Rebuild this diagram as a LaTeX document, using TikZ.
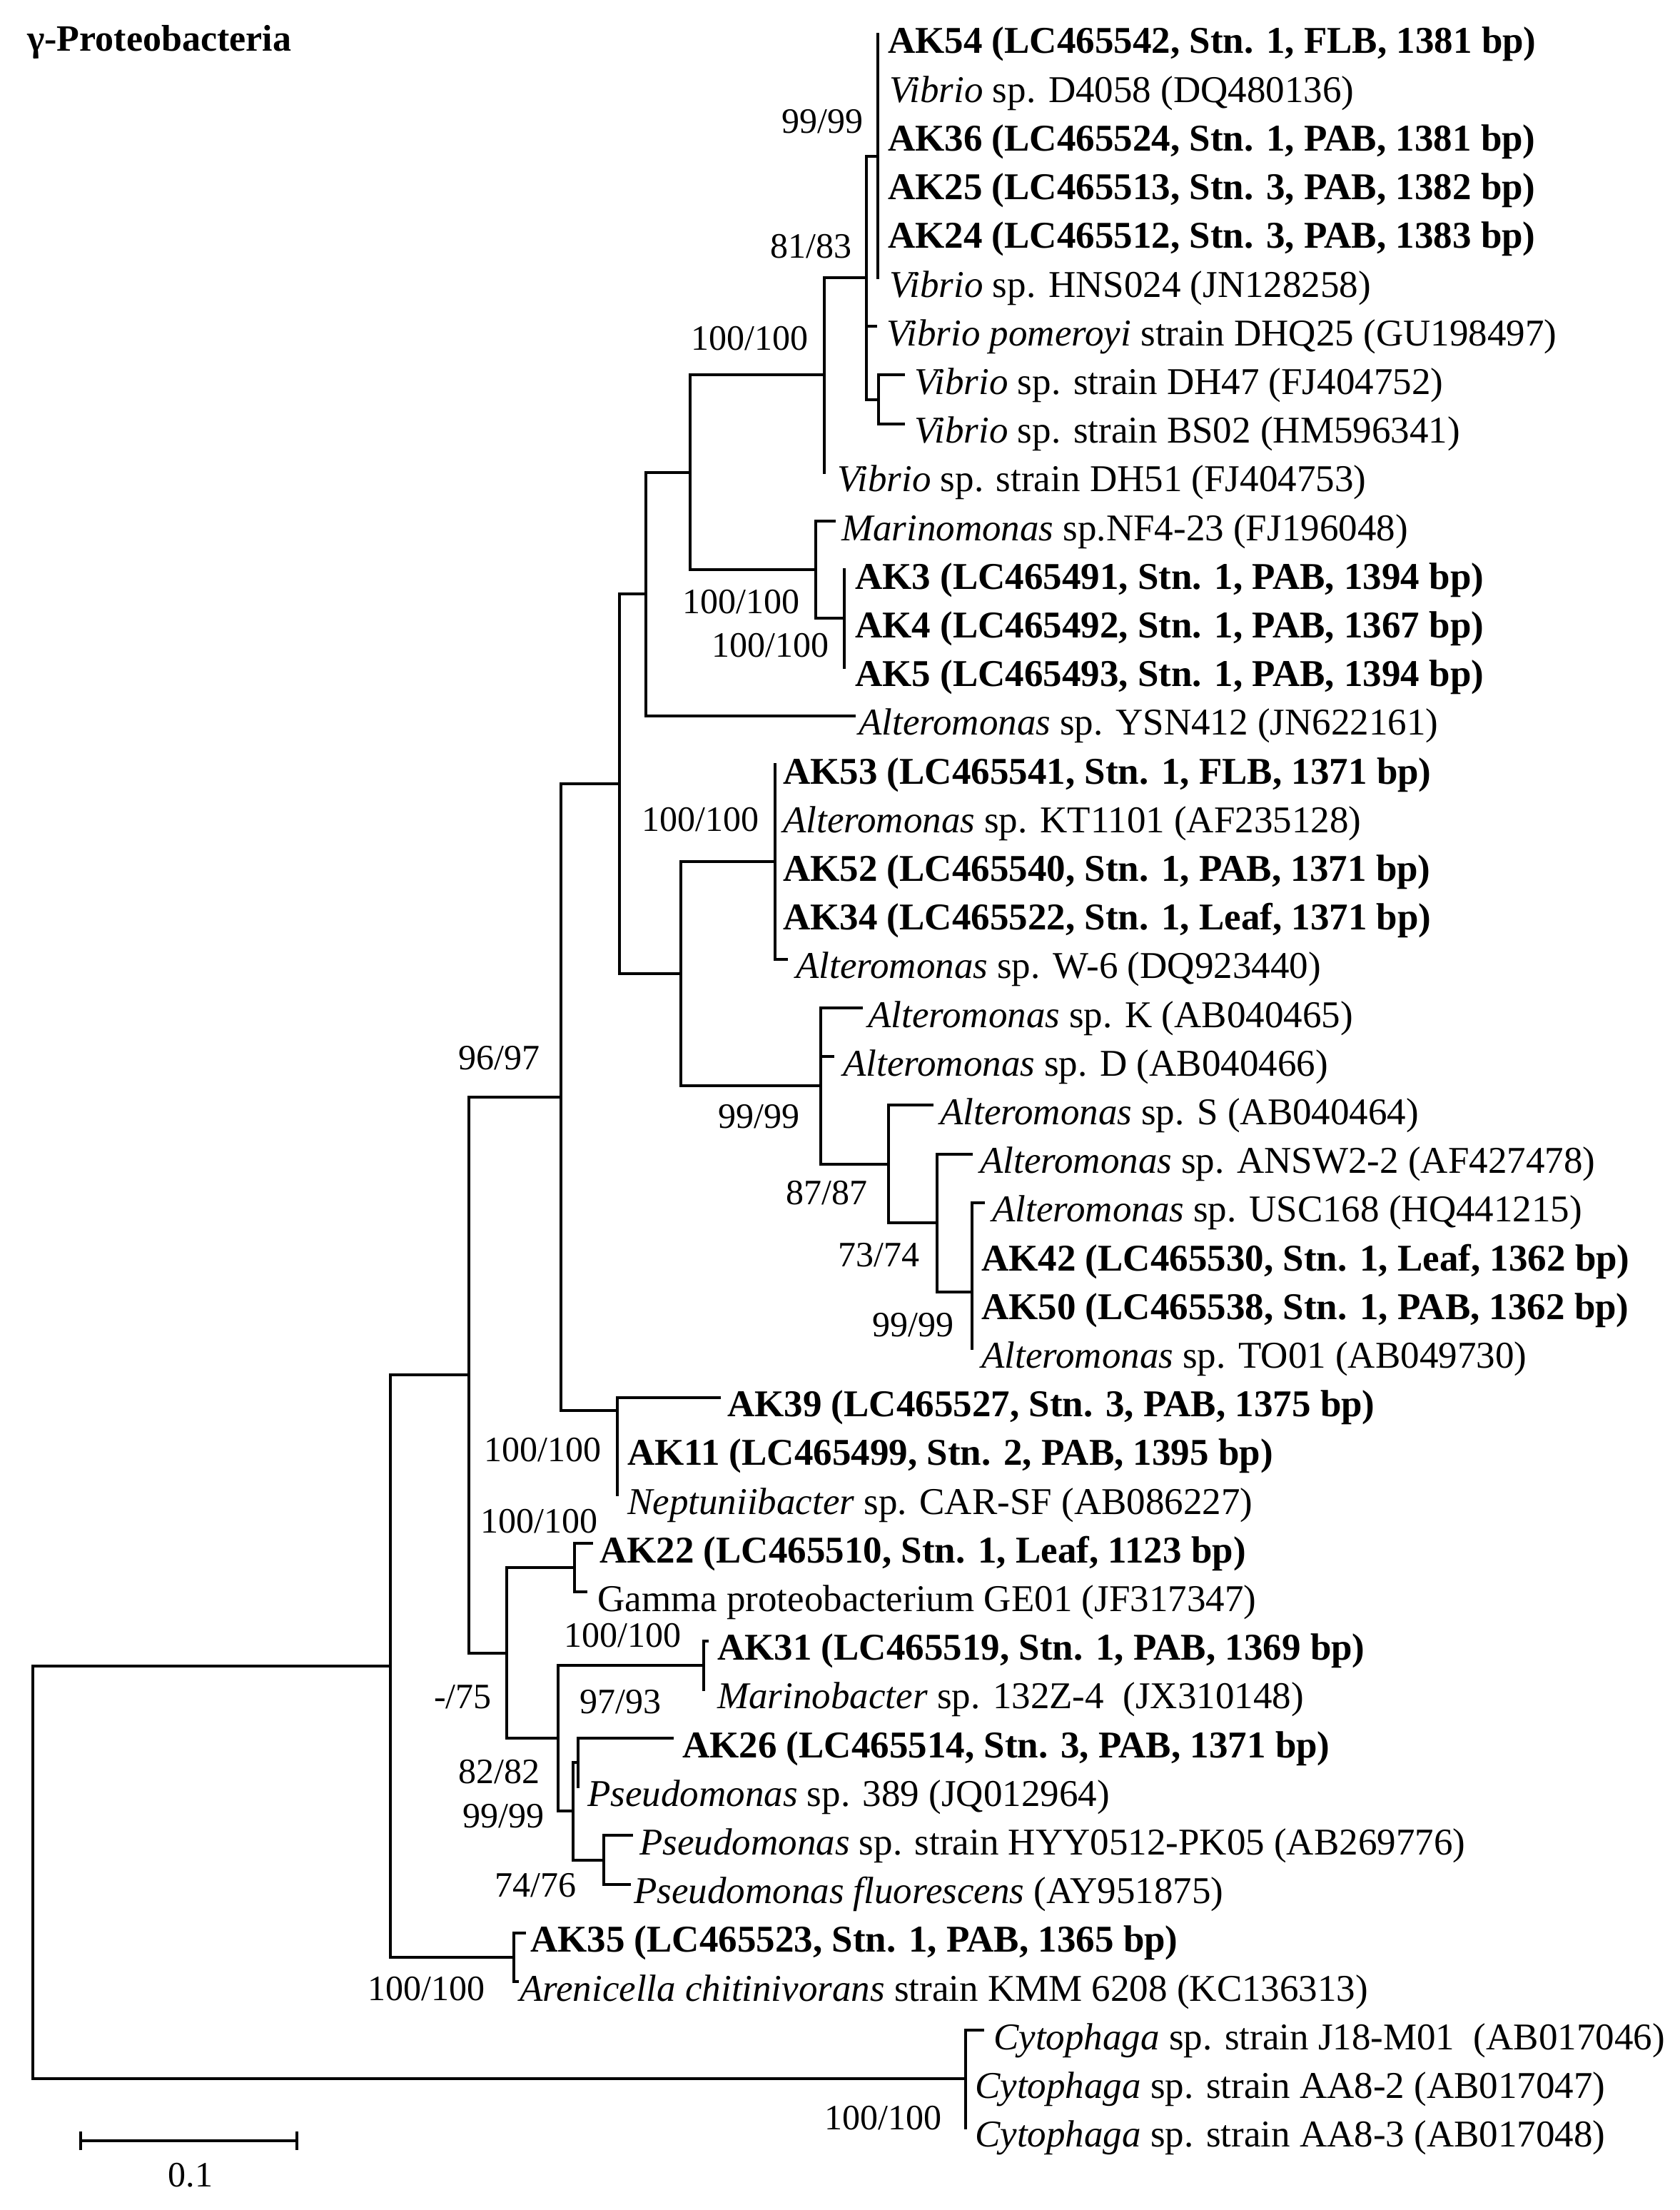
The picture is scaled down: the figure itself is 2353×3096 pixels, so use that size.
\documentclass[tikz,border=0pt]{standalone}
\usepackage{fontspec}
\setmainfont{Liberation Serif}
\newcommand\treebr[3]{\draw[br] (#2) -| (#1) |- (#3);}
\newcommand\midbr[2]{\draw[br] (#1 |- #2) -- (#2);}
\begin{document}
\begin{tikzpicture}[x=1pt,y=-1pt,
  br/.style={line width=4pt,line cap=rect,line join=miter},
  leaf/.style={anchor=base west,inner sep=0pt,font=\fontsize{53}{60}\selectfont},
  boot/.style={anchor=base west,inner sep=0pt,font=\fontsize{50}{58}\selectfont}]
\fill[white] (0,0) rectangle (2353,3096);
\useasboundingbox (0,0) rectangle (2353,3096);
% ---- leaf tips
\coordinate (l1) at (1230,48);
\coordinate (l2) at (1230,116.2);
\coordinate (l3) at (1230,184.4);
\coordinate (l4) at (1230,252.6);
\coordinate (l5) at (1230,320.8);
\coordinate (l6) at (1230,389);
\coordinate (l7) at (1227,457.2);
\coordinate (l8) at (1266,525.4);
\coordinate (l9) at (1266,593.6);
\coordinate (l10) at (1155,661.8);
\coordinate (l11) at (1169,730);
\coordinate (l12) at (1183,798.2);
\coordinate (l13) at (1183,866.4);
\coordinate (l14) at (1183,934.6);
\coordinate (l15) at (1197,1002.8);
\coordinate (l16) at (1086,1071);
\coordinate (l17) at (1086,1139.2);
\coordinate (l18) at (1086,1207.4);
\coordinate (l19) at (1086,1275.6);
\coordinate (l20) at (1102,1343.8);
\coordinate (l21) at (1207,1412);
\coordinate (l22) at (1167,1480.2);
\coordinate (l23) at (1306,1548.4);
\coordinate (l24) at (1361,1616.6);
\coordinate (l25) at (1378,1684.8);
\coordinate (l26) at (1362,1753);
\coordinate (l27) at (1362,1821.2);
\coordinate (l28) at (1362,1889.4);
\coordinate (l29) at (1008,1957.6);
\coordinate (l30) at (865,2025.8);
\coordinate (l31) at (865,2094);
\coordinate (l32) at (829,2162.2);
\coordinate (l33) at (821,2230.4);
\coordinate (l34) at (991,2298.6);
\coordinate (l35) at (986,2366.8);
\coordinate (l36) at (942,2435);
\coordinate (l37) at (810,2503.2);
\coordinate (l38) at (885,2571.4);
\coordinate (l39) at (882,2639.6);
\coordinate (l40) at (735,2707.8);
\coordinate (l41) at (725,2776);
\coordinate (l42) at (1377,2844.2);
\coordinate (l43) at (1353,2912.4);
\coordinate (l44) at (1353,2980.6);
% ---- internal nodes
\coordinate (V) at (1230,218.5);
\coordinate (DHP) at (1231,559.5);
\coordinate (NA) at (1214,389);
\coordinate (NV) at (1155,525.4);
\coordinate (A345) at (1183,866.4);
\coordinate (MC) at (1143,798.2);
\coordinate (O) at (967,661.8);
\coordinate (M) at (905,832.3);
\coordinate (A53) at (1086,1207.4);
\coordinate (X) at (1362,1810);
\coordinate (R) at (1313,1713.3);
\coordinate (Q) at (1245,1630.9);
\coordinate (P) at (1150,1521.4);
\coordinate (N) at (954,1364.4);
\coordinate (K) at (868,1098.4);
\coordinate (L) at (865,1976);
\coordinate (I) at (786,1537.2);
\coordinate (C22) at (805,2196.3);
\coordinate (C31) at (986,2332.7);
\coordinate (W) at (810,2469.1);
\coordinate (PS) at (846,2605.5);
\coordinate (U) at (803,2537.3);
\coordinate (T) at (782,2435);
\coordinate (J) at (710,2315.7);
\coordinate (H) at (657,1926.4);
\coordinate (C35) at (720,2741.9);
\coordinate (G) at (547,2334.2);
\coordinate (CY) at (1353,2912.4);
\coordinate (root) at (46,2623.3);
% ---- branches
\treebr{V}{l1}{l6}
\treebr{DHP}{l8}{l9}
\treebr{NA}{V}{DHP}
\midbr{NA}{l7}
\treebr{NV}{NA}{l10}
\treebr{A345}{l12}{l14}
\treebr{MC}{l11}{A345}
\treebr{O}{NV}{MC}
\treebr{M}{O}{l15}
\treebr{A53}{l16}{l20}
\treebr{X}{l25}{l28}
\treebr{R}{l24}{X}
\treebr{Q}{l23}{R}
\treebr{P}{l21}{Q}
\midbr{P}{l22}
\treebr{N}{A53}{P}
\treebr{K}{M}{N}
\treebr{L}{l29}{l31}
\treebr{I}{K}{L}
\treebr{C22}{l32}{l33}
\treebr{C31}{l34}{l35}
\treebr{W}{l36}{l37}
\treebr{PS}{l38}{l39}
\treebr{U}{W}{PS}
\treebr{T}{C31}{U}
\treebr{J}{C22}{T}
\treebr{H}{I}{J}
\treebr{C35}{l40}{l41}
\treebr{G}{H}{C35}
\treebr{CY}{l42}{l44}
\treebr{root}{G}{CY}
% ---- leaf labels
\node[leaf] (t1) at (1244,75) {\textbf{AK54 (LC465542, Stn. 1, FLB, 1381 bp)}};
\node[leaf] (t2) at (1246,143.2) {\textit{Vibrio} sp. D4058 (DQ480136)};
\node[leaf] (t3) at (1244,211.4) {\textbf{AK36 (LC465524, Stn. 1, PAB, 1381 bp)}};
\node[leaf] (t4) at (1244,279.6) {\textbf{AK25 (LC465513, Stn. 3, PAB, 1382 bp)}};
\node[leaf] (t5) at (1244,347.8) {\textbf{AK24 (LC465512, Stn. 3, PAB, 1383 bp)}};
\node[leaf] (t6) at (1246,416) {\textit{Vibrio} sp. HNS024 (JN128258)};
\node[leaf] (t7) at (1242,484.2) {\textit{Vibrio pomeroyi} strain DHQ25 (GU198497)};
\node[leaf] (t8) at (1281,552.4) {\textit{Vibrio} sp. strain DH47 (FJ404752)};
\node[leaf] (t9) at (1281,620.6) {\textit{Vibrio} sp. strain BS02 (HM596341)};
\node[leaf] (t10) at (1173,688.8) {\textit{Vibrio} sp. strain DH51 (FJ404753)};
\node[leaf] (t11) at (1179,757) {\textit{Marinomonas} sp.NF4-23 (FJ196048)};
\node[leaf] (t12) at (1198,825.2) {\textbf{AK3 (LC465491, Stn. 1, PAB, 1394 bp)}};
\node[leaf] (t13) at (1198,893.4) {\textbf{AK4 (LC465492, Stn. 1, PAB, 1367 bp)}};
\node[leaf] (t14) at (1198,961.6) {\textbf{AK5 (LC465493, Stn. 1, PAB, 1394 bp)}};
\node[leaf] (t15) at (1203,1029.8) {\textit{Alteromonas} sp. YSN412 (JN622161)};
\node[leaf] (t16) at (1097,1098) {\textbf{AK53 (LC465541, Stn. 1, FLB, 1371 bp)}};
\node[leaf] (t17) at (1097,1166.2) {\textit{Alteromonas} sp. KT1101 (AF235128)};
\node[leaf] (t18) at (1097,1234.4) {\textbf{AK52 (LC465540, Stn. 1, PAB, 1371 bp)}};
\node[leaf] (t19) at (1097,1302.6) {\textbf{AK34 (LC465522, Stn. 1, Leaf, 1371 bp)}};
\node[leaf] (t20) at (1115,1370.8) {\textit{Alteromonas} sp. W-6 (DQ923440)};
\node[leaf] (t21) at (1216,1439) {\textit{Alteromonas} sp. K (AB040465)};
\node[leaf] (t22) at (1181,1507.2) {\textit{Alteromonas} sp. D (AB040466)};
\node[leaf] (t23) at (1317,1575.4) {\textit{Alteromonas} sp. S (AB040464)};
\node[leaf] (t24) at (1373,1643.6) {\textit{Alteromonas} sp. ANSW2-2 (AF427478)};
\node[leaf] (t25) at (1390,1711.8) {\textit{Alteromonas} sp. USC168 (HQ441215)};
\node[leaf] (t26) at (1375,1780) {\textbf{AK42 (LC465530, Stn. 1, Leaf, 1362 bp)}};
\node[leaf] (t27) at (1375,1848.2) {\textbf{AK50 (LC465538, Stn. 1, PAB, 1362 bp)}};
\node[leaf] (t28) at (1375,1916.4) {\textit{Alteromonas} sp. TO01 (AB049730)};
\node[leaf] (t29) at (1019,1984.6) {\textbf{AK39 (LC465527, Stn. 3, PAB, 1375 bp)}};
\node[leaf] (t30) at (879,2052.8) {\textbf{AK11 (LC465499, Stn. 2, PAB, 1395 bp)}};
\node[leaf] (t31) at (879,2121) {\textit{Neptuniibacter} sp. CAR-SF (AB086227)};
\node[leaf] (t32) at (840,2189.2) {\textbf{AK22 (LC465510, Stn. 1, Leaf, 1123 bp)}};
\node[leaf] (t33) at (837,2257.4) {Gamma proteobacterium GE01 (JF317347)};
\node[leaf] (t34) at (1005,2325.6) {\textbf{AK31 (LC465519, Stn. 1, PAB, 1369 bp)}};
\node[leaf] (t35) at (1005,2393.8) {\textit{Marinobacter} sp. 132Z-4~ (JX310148)};
\node[leaf] (t36) at (956,2462) {\textbf{AK26 (LC465514, Stn. 3, PAB, 1371 bp)}};
\node[leaf] (t37) at (823,2530.2) {\textit{Pseudomonas} sp. 389 (JQ012964)};
\node[leaf] (t38) at (896,2598.4) {\textit{Pseudomonas} sp. strain HYY0512-PK05 (AB269776)};
\node[leaf] (t39) at (888,2666.6) {\textit{Pseudomonas fluorescens} (AY951875)};
\node[leaf] (t40) at (743,2734.8) {\textbf{AK35 (LC465523, Stn. 1, PAB, 1365 bp)}};
\node[leaf] (t41) at (728,2803) {\textit{Arenicella chitinivorans} strain KMM 6208 (KC136313)};
\node[leaf] (t42) at (1392,2871.2) {\textit{Cytophaga} sp. strain J18-M01~ (AB017046)};
\node[leaf] (t43) at (1366,2939.4) {\textit{Cytophaga} sp. strain AA8-2 (AB017047)};
\node[leaf] (t44) at (1366,3007.6) {\textit{Cytophaga} sp. strain AA8-3 (AB017048)};
% ---- bootstrap values
\node[boot] (b1) at (1095,187) {99/99};
\node[boot] (b2) at (1079,361) {81/83};
\node[boot] (b3) at (968,490) {100/100};
\node[boot] (b4) at (956,859) {100/100};
\node[boot] (b5) at (997,920) {100/100};
\node[boot] (b6) at (899,1164) {100/100};
\node[boot] (b7) at (1006,1580) {99/99};
\node[boot] (b8) at (1101,1687) {87/87};
\node[boot] (b9) at (1174,1774) {73/74};
\node[boot] (b10) at (1222,1872) {99/99};
\node[boot] (b11) at (642,1498) {96/97};
\node[boot] (b12) at (678,2047) {100/100};
\node[boot] (b13) at (673,2147) {100/100};
\node[boot] (b14) at (790,2307) {100/100};
\node[boot] (b15) at (812,2400) {97/93};
\node[boot] (b16) at (608,2393) {-/75};
\node[boot] (b17) at (642,2498) {82/82};
\node[boot] (b18) at (648,2560) {99/99};
\node[boot] (b19) at (693,2657) {74/76};
\node[boot] (b20) at (515,2802) {100/100};
\node[boot] (b21) at (1155,2983) {100/100};
% ---- title and scale bar
\node[anchor=base west,inner sep=0pt,font=\fontsize{52}{60}\selectfont\bfseries] (title) at (38,72) {γ-Proteobacteria};
\coordinate (sbA) at (113,2999);
\coordinate (sbB) at (416,2999);
\draw[line width=4pt] (sbA) -- (sbB);
\draw[line width=4pt] ([yshift=-13pt]sbA) -- ([yshift=13pt]sbA);
\draw[line width=4pt] ([yshift=-13pt]sbB) -- ([yshift=13pt]sbB);
\node[boot,anchor=base] (sbl) at (267,3063) {0.1};
\end{tikzpicture}
\end{document}
